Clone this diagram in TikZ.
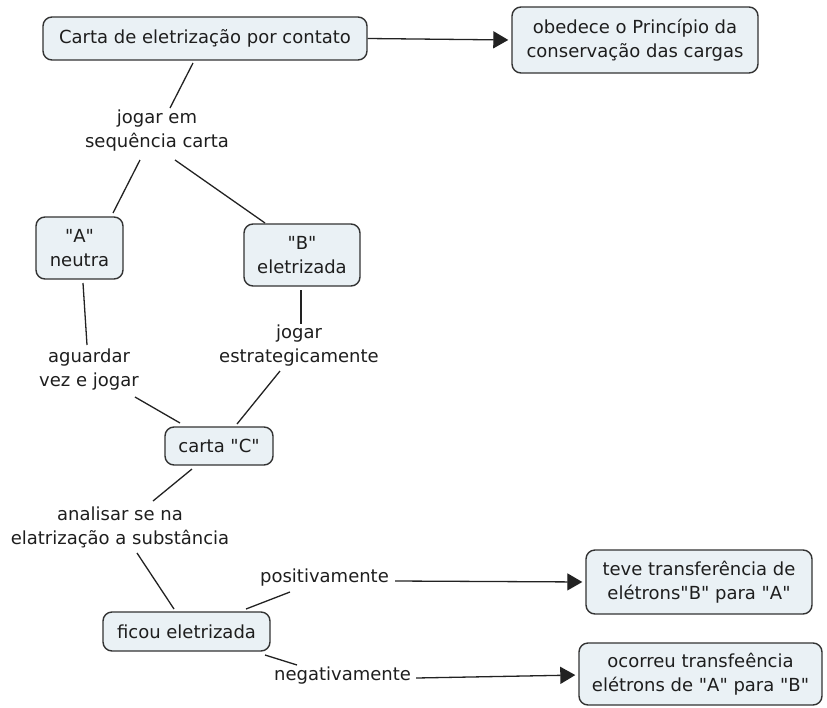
\documentclass[tikz,border=0pt]{standalone}
\usepackage{fontspec}
\setmainfont{DejaVu Sans}[Ligatures=TeXOff]
\usetikzlibrary{arrows.meta,calc}
\newcommand{\qq}{\symbol{34}}
\definecolor{boxfill}{HTML}{EAF1F5}
\definecolor{boxline}{HTML}{333333}
\definecolor{txt}{HTML}{1E1E1E}
\definecolor{lnk}{HTML}{222222}
\begin{document}
\begin{tikzpicture}[x=1pt,y=-1pt,
  every node/.style={font=\fontsize{18}{24}\selectfont, text=txt, align=center, inner sep=0pt},
  concept/.style={draw=boxline, line width=1.4pt, fill=boxfill, rounded corners=9pt},
  lab/.style={},
  link/.style={draw=lnk, line width=1.3pt},
  arr/.style={link, -{Triangle[length=15pt,width=17pt]}, shorten >=3pt}]
\useasboundingbox (0,0) rectangle (827,707);
% concepts
\node[concept, minimum width=324pt, minimum height=43pt] (top) at (205,38.5) {Carta de eletrização por contato};
\node[concept, minimum width=246pt, minimum height=66pt] (prin) at (635,40) {obedece o Princípio da\\conservação das cargas};
\node[concept, minimum width=87pt, minimum height=62pt] (A) at (79.5,248) {\qq A\qq\\neutra};
\node[concept, minimum width=116pt, minimum height=62pt] (B) at (302,255) {\qq B\qq\\eletrizada};
\node[concept, minimum width=108pt, minimum height=38pt] (C) at (219,446) {carta \qq C\qq};
\node[concept, minimum width=167pt, minimum height=39pt] (ficou) at (186.5,631.5) {ficou eletrizada};
\node[concept, minimum width=226pt, minimum height=64pt] (teve) at (699,582) {teve transferência de\\elétrons\qq B\qq\ para \qq A\qq};
\node[concept, minimum width=243pt, minimum height=62pt] (ocor) at (700.5,674) {ocorreu transfeência\\elétrons de \qq A\qq\ para \qq B\qq};
% labels
\node[lab] (jog) at (157,131) {jogar em\\sequência carta};
\node[lab] (agu) at (89,370) {aguardar\\vez e jogar};
\node[lab] (jest) at (299,346) {jogar\\estrategicamente};
\node[lab] (anal) at (120,527) {analisar se na\\elatrização a substância};
\node[lab] (pos) at (324.5,578) {positivamente};
\node[lab] (neg) at (342.5,676) {negativamente};
% links
\draw[arr] (top.east) -- (prin.west);
\draw[link] ($(top)+(-12,24.5)$) -- ($(jog)+(13,-23)$);
\draw[link] ($(jog)+(-17,29)$) -- ($(A)+(33.5,-35)$);
\draw[link] ($(jog)+(18,29)$) -- ($(B)+(-37,-32)$);
\draw[link] ($(A)+(3.5,35)$) -- ($(agu)+(-2,-25)$);
\draw[link] ($(B)+(-1,35)$) -- ($(jest)+(2,-22)$);
\draw[link] ($(agu)+(46,27)$) -- ($(C)+(-39,-23)$);
\draw[link] ($(jest)+(-19,25)$) -- ($(C)+(18,-22)$);
\draw[link] ($(C)+(-27,23)$) -- ($(anal)+(33,-26)$);
\draw[link] ($(anal)+(17,26)$) -- ($(ficou)+(-12.5,-22.5)$);
\draw[link] ($(ficou)+(59.5,-22.5)$) -- ($(pos)+(-34.5,14)$);
\draw[link] ($(ficou)+(78.5,23.5)$) -- ($(neg)+(-45.5,-11)$);
\draw[arr] ($(pos.east)+(6,3)$) -- ($(teve.west)+(0,0)$);
\draw[arr] ($(neg.east)+(5,2)$) -- ($(ocor.west)+(0,1)$);
\end{tikzpicture}
\end{document}
